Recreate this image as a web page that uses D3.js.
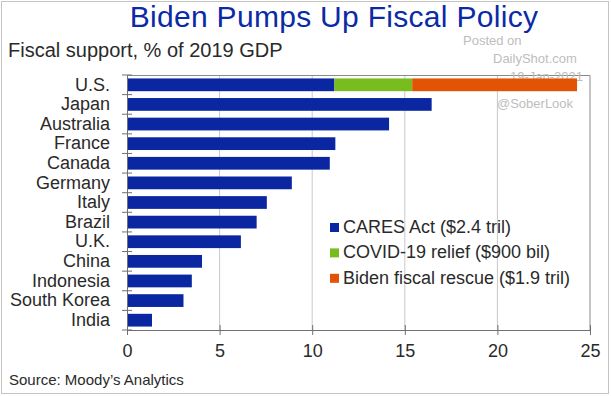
<!DOCTYPE html>
<html>
<head>
<meta charset="utf-8">
<script src="https://cdn.jsdelivr.net/npm/d3@7"></script>
<style>
  body { margin: 0; background: #fff; }
  svg { font-family: "Liberation Sans", Arial, sans-serif; }
</style>
</head>
<body>
<div id="vis"></div>
<script>
var countries = ["U.S.", "Japan", "Australia", "France", "Canada", "Germany", "Italy",
                 "Brazil", "U.K.", "China", "Indonesia", "South Korea", "India"];
var cares  = [11.2, 16.45, 14.15, 11.25, 10.95, 8.9, 7.55, 7.0, 6.15, 4.05, 3.5, 3.05, 1.35];
var covid  = [4.2, 0, 0, 0, 0, 0, 0, 0, 0, 0, 0, 0, 0];
var biden  = [8.9, 0, 0, 0, 0, 0, 0, 0, 0, 0, 0, 0, 0];
var seriesNames = ["CARES Act ($2.4 tril)", "COVID-19 relief ($900 bil)", "Biden fiscal rescue ($1.9 tril)"];
var xTicks = [0, 5, 10, 15, 20, 25];

var colors = ["#0a26a0", "#78bc1e", "#e25304"];
var w = 611, h = 396;

var svg = d3.select("#vis").append("svg")
  .attr("width", w)
  .attr("height", h);

// outer frame
svg.append("rect")
  .attr("x", 1.5).attr("y", 1.5)
  .attr("width", 607).attr("height", 392)
  .attr("fill", "none")
  .attr("stroke", "#c4c4c4");

var x = d3.scaleLinear().domain([0, 25]).range([127, 590]);
var y = d3.scaleBand().domain(countries).range([75, 330])
  .paddingInner(0.35).paddingOuter(0.175);

// title & subtitle
svg.append("text")
  .attr("x", 334).attr("y", 27)
  .attr("text-anchor", "middle")
  .attr("font-size", 30)
  .attr("letter-spacing", 0.3)
  .attr("fill", "#0a2aa6")
  .text("Biden Pumps Up Fiscal Policy");

svg.append("text")
  .attr("x", 8).attr("y", 57)
  .attr("font-size", 20)
  .attr("fill", "#2a2a2a")
  .text("Fiscal support, % of 2019 GDP");

// grid
svg.selectAll(".grid")
  .data(xTicks.slice(1, -1))
  .enter().append("line")
  .attr("x1", function(d) { return x(d); })
  .attr("x2", function(d) { return x(d); })
  .attr("y1", 75).attr("y2", 330)
  .attr("stroke", "#c8c8c8");

// plot frame (top & right)
svg.append("path")
  .attr("d", "M" + x(0) + ",75.5H" + x(25) + "V330")
  .attr("fill", "none")
  .attr("stroke", "#8a8a8a");

// watermark
var wm = [["Posted on", 463, 45], ["DailyShot.com", 493, 63], ["19-Jan-2021", 510, 81], ["@SoberLook", 497, 108]];
svg.selectAll(".wm")
  .data(wm)
  .enter().append("text")
  .attr("x", function(d) { return d[1]; })
  .attr("y", function(d) { return d[2]; })
  .attr("font-size", 13)
  .attr("fill", "#bdbdbd")
  .text(function(d) { return d[0]; });

// stacked bars
var table = countries.map(function(c, i) {
  return { country: c, s0: cares[i], s1: covid[i], s2: biden[i] };
});
var stack = d3.stack().keys(["s0", "s1", "s2"])(table);

svg.selectAll(".layer")
  .data(stack)
  .enter().append("g")
  .attr("fill", function(d, i) { return colors[i]; })
  .selectAll("rect")
  .data(function(d) { return d.filter(function(p) { return p[1] > p[0]; }); })
  .enter().append("rect")
  .attr("x", function(d) { return x(d[0]); })
  .attr("y", function(d) { return y(d.data.country); })
  .attr("width", function(d) { return x(d[1]) - x(d[0]); })
  .attr("height", y.bandwidth());

// x axis
var xAxis = svg.append("g")
  .attr("transform", "translate(0,330)")
  .call(d3.axisBottom(x).tickValues(xTicks).tickSizeInner(5).tickSizeOuter(0).tickPadding(9));
xAxis.select(".domain").attr("stroke", "#707070");
xAxis.selectAll(".tick line").attr("y1", -5).attr("stroke", "#707070");
xAxis.selectAll("text").attr("font-size", 18).attr("fill", "#2a2a2a")
  .attr("font-family", "Liberation Sans, Arial, sans-serif");

// y axis
var yAxis = svg.append("g")
  .attr("transform", "translate(" + x(0) + ",0)")
  .call(d3.axisLeft(y).tickSize(0).tickPadding(17));
yAxis.select(".domain").attr("stroke", "#707070");
yAxis.selectAll("text").attr("font-size", 18).attr("fill", "#2a2a2a")
  .attr("font-family", "Liberation Sans, Arial, sans-serif");

var bounds = countries.map(function(c) { return y(c) - y.step() * y.paddingInner() / 2; });
bounds.push(330);
yAxis.selectAll(".btick")
  .data(bounds)
  .enter().append("line")
  .attr("x1", -5).attr("x2", 5)
  .attr("y1", function(d) { return d; })
  .attr("y2", function(d) { return d; })
  .attr("stroke", "#707070");

// legend
var legend = svg.selectAll(".legend")
  .data(seriesNames)
  .enter().append("g")
  .attr("transform", function(d, i) { return "translate(330," + (233 + i * 25.4) + ")"; });
legend.append("rect")
  .attr("x", 0).attr("y", -10)
  .attr("width", 9).attr("height", 9)
  .attr("fill", function(d, i) { return colors[i]; });
legend.append("text")
  .attr("x", 13)
  .attr("font-size", 18)
  .attr("fill", "#2a2a2a")
  .text(function(d) { return d; });

// source
svg.append("text")
  .attr("x", 9).attr("y", 385)
  .attr("font-size", 15)
  .attr("fill", "#2a2a2a")
  .text("Source: Moody\u2019s Analytics");
</script>
</body>
</html>
